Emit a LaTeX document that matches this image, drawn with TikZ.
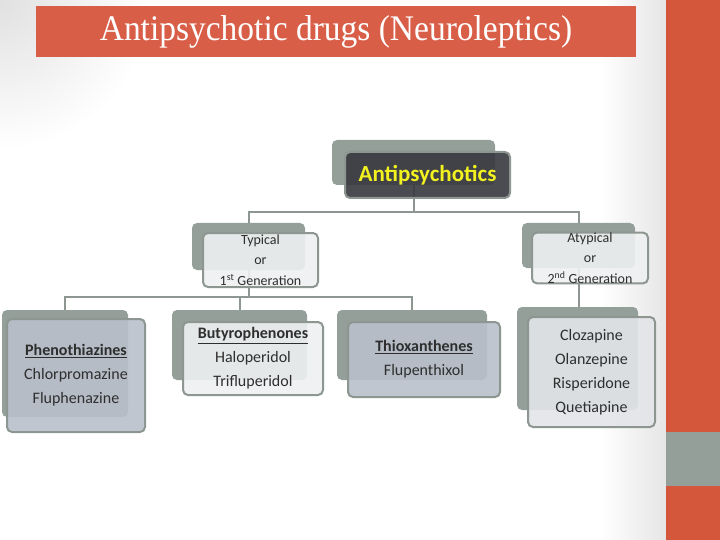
\documentclass[tikz,border=0pt]{standalone}
\usepackage{fontspec}
\setmainfont{Carlito}
\newfontfamily\headfont{Liberation Serif}
\usetikzlibrary{positioning}
\pgfdeclarelayer{bg}
\pgfdeclarelayer{wires}
\pgfsetlayers{bg,wires,main}
\definecolor{slidered}{HTML}{D4573C}
\definecolor{bannerred}{HTML}{D95E48}
\definecolor{shadowgrey}{HTML}{939F98}
\definecolor{edgegrey}{HTML}{8D9691}
\definecolor{darkbox}{HTML}{383840}
\definecolor{palebox}{HTML}{EEF0F1}
\definecolor{bluebox}{HTML}{B9C0CA}
\definecolor{greybox}{HTML}{E3E5E9}
\definecolor{drugtext}{HTML}{2E2E2E}
\definecolor{headyellow}{HTML}{F2F21E}
\tikzset{
  backbox/.style={fill=shadowgrey, rounded corners=5pt, inner sep=0pt},
  frontbox/.style={draw=edgegrey, line width=2pt, rounded corners=5pt, align=center,
    text=drugtext, fill opacity=0.9, text opacity=1, inner sep=0pt,
    font=\fontsize{16}{24}\selectfont},
  genbox/.style={frontbox, fill=palebox, font=\fontsize{14}{20.5}\selectfont},
  link/.style={draw=edgegrey, line width=2pt},
}
\begin{document}
\begin{tikzpicture}[x=1pt,y=-1pt]
  \useasboundingbox (0,0) rectangle (720,540);
  \begin{pgfonlayer}{bg}
    \fill[white] (0,0) rectangle (720,540);
    \shade[inner color=black!12, outer color=white] (0,0) circle (150);
    \shade[left color=white, right color=black!10] (600,0) rectangle (667,540);
    \fill[slidered] (666,0) rectangle (720,540);
    \fill[shadowgrey] (666,432) rectangle (720,486);
  \end{pgfonlayer}
  % title banner
  \node[fill=bannerred, minimum width=600pt, minimum height=51pt, inner sep=0pt,
    text=white, font=\headfont\fontsize{36}{36}\selectfont] (title) at (336,31.5)
    {\scalebox{0.93}[1]{Antipsychotic drugs (Neuroleptics)}};
  % shadow boxes
  \node[backbox, minimum width=163pt, minimum height=45pt] (antiback) at (413.5,162.5) {};
  \node[backbox, minimum width=113pt, minimum height=47pt] (typback) at (248.5,246.5) {};
  \node[backbox, minimum width=113pt, minimum height=45pt] (atyback) at (578.5,245.5) {};
  \node[backbox, minimum width=126pt, minimum height=107pt] (phenback) at (65,363.5) {};
  \node[backbox, minimum width=135pt, minimum height=70pt] (butback) at (239.5,345) {};
  \node[backbox, minimum width=150pt, minimum height=70pt] (thioback) at (412,345) {};
  \node[backbox, minimum width=121pt, minimum height=103pt] (atdback) at (577.5,358.5) {};
  % front boxes
  \node[frontbox, fill=darkbox, minimum width=165pt, minimum height=46pt,
    text=headyellow, font=\bfseries\fontsize{23}{23}\selectfont] (anti) at (427.5,175)
    {Antipsychotics};
  \node[genbox, minimum width=115pt, minimum height=54pt] (typ) at (260.5,260)
    {Typical\\or\\1\textsuperscript{st} Generation};
  \node[genbox, minimum width=116pt, minimum height=50pt] (aty) at (590,258)
    {Atypical\\or\\2\textsuperscript{nd} Generation};
  \node[frontbox, fill=bluebox, minimum width=138pt, minimum height=113pt] (phen) at (76,375.5)
    {\underline{\textbf{Phenothiazines}}\\Chlorpromazine\\Fluphenazine};
  \node[frontbox, fill=palebox, minimum width=140pt, minimum height=73pt] (but) at (253,358.5)
    {\underline{\textbf{Butyrophenones}}\\Haloperidol\\Trifluperidol};
  \node[frontbox, fill=bluebox, minimum width=152pt, minimum height=75pt] (thio) at (424,359.5)
    {\underline{\textbf{Thioxanthenes}}\\Flupenthixol};
  \node[frontbox, fill=greybox, minimum width=127pt, minimum height=110pt] (atd) at (591.5,372)
    {Clozapine\\Olanzepine\\Risperidone\\Quetiapine};
  % connectors
  \coordinate (split1) at (413.5,212);
  \coordinate (split2) at (248.5,297);
  \begin{pgfonlayer}{wires}
    \draw[link] (antiback.south) -- (split1) -| (typback.north);
    \draw[link] (split1) -| (atyback.north);
    \draw[link] (typback.south) -- (split2) -| (phenback.north);
    \draw[link] (split2) -| (thioback.north);
    \draw[link] (split2) -| (butback.north);
    \draw[link] (atyback.south) -- (atyback.south |- atdback.north);
  \end{pgfonlayer}
\end{tikzpicture}
\end{document}
